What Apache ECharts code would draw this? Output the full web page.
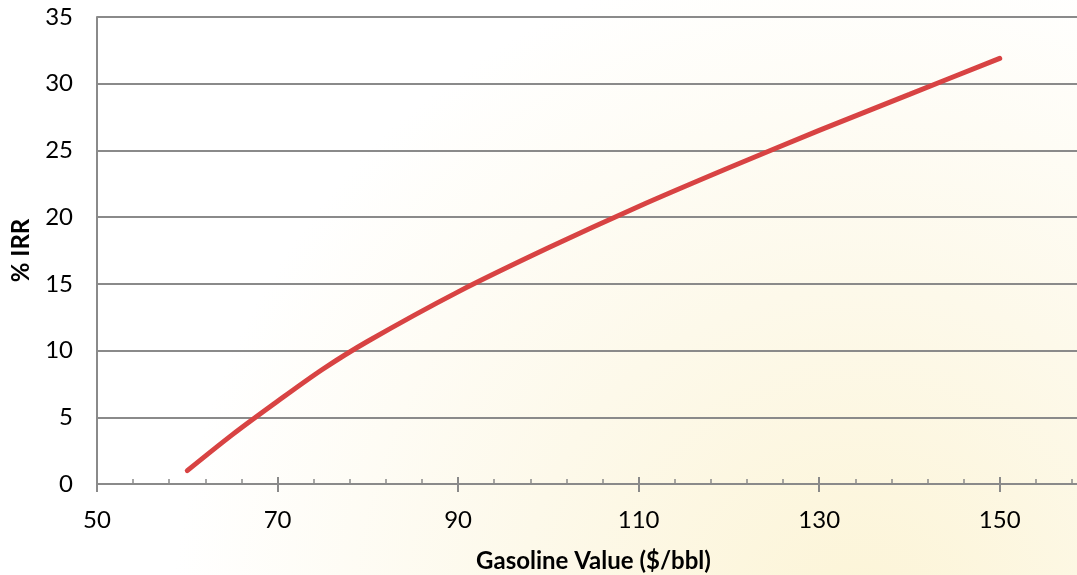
<!DOCTYPE html>
<html>
<head>
<meta charset="utf-8">
<style>
  html, body { margin: 0; padding: 0; background: #fff; }
  #chart { width: 1077px; height: 575px; }
</style>
<script src="https://cdn.jsdelivr.net/npm/echarts@6/dist/echarts.min.js"></script>
</head>
<body>
<div id="chart"></div>
<script>
// Gasoline value ($/bbl) versus internal rate of return (%)
const gasolineValue = [60, 65, 70, 75, 80, 90, 100, 110, 120, 130, 140, 150];
const irrPercent    = [1.0, 3.7, 6.2, 8.6, 10.7, 14.4, 17.7, 20.8, 23.7, 26.5, 29.2, 31.9];

const xAxisMin = 50, xAxisMax = 160, xStep = 20;
const yAxisMin = 0, yAxisMax = 35, yStep = 5;

const fontFamily = 'Lato, "Open Sans", sans-serif';
const axisGray = '#8a8a8a';

const chart = echarts.init(document.getElementById('chart'), null, { renderer: 'canvas' });

const points = gasolineValue.map((x, i) => [x, irrPercent[i]]);

chart.setOption({
  // white page with a pale cream glow rising from the lower right
  backgroundColor: {
    type: 'radial', x: 0.8, y: 1.1, r: 1.2,
    colorStops: [
      { offset: 0, color: '#fcf4d6' },
      { offset: 0.5, color: '#fdf9ea' },
      { offset: 1, color: '#ffffff' }
    ]
  },
  animation: false,
  // plot area runs a little past the right edge of the page
  grid: { left: 97, top: 17, width: 993, bottom: 91, containLabel: false, outerBoundsMode: 'none' },
  xAxis: [
    {
      type: 'value',
      min: xAxisMin, max: xAxisMax, interval: xStep,
      name: 'Gasoline Value ($/bbl)',
      nameLocation: 'middle',
      nameGap: 65,
      nameTextStyle: { fontFamily, fontWeight: 'bold', fontSize: 24, color: '#000' },
      axisLine: { show: true, lineStyle: { color: axisGray, width: 2 } },
      axisTick: { show: true, inside: true, length: 7, lineStyle: { color: axisGray, width: 2 } },
      minorTick: { show: true, splitNumber: 5, length: 5, lineStyle: { color: axisGray, width: 1.5 } },
      axisLabel: { fontFamily, fontSize: 24, color: '#000', margin: 24, showMaxLabel: false },
      splitLine: { show: false }
    },
    {
      type: 'value',
      min: xAxisMin, max: xAxisMax, interval: xStep,
      position: 'bottom',
      axisLine: { show: false },
      axisTick: { show: true, inside: false, length: 8, lineStyle: { color: axisGray, width: 2 } },
      axisLabel: { show: false },
      splitLine: { show: false }
    }
  ],
  yAxis: {
    type: 'value',
    min: yAxisMin, max: yAxisMax, interval: yStep,
    name: '% IRR',
    nameLocation: 'middle',
    nameGap: 64,
    nameTextStyle: { fontFamily, fontWeight: 'bold', fontSize: 24, color: '#000' },
    axisLine: { show: true, lineStyle: { color: axisGray, width: 2 } },
    axisTick: { show: false },
    axisLabel: { fontFamily, fontSize: 24, color: '#000', margin: 24 },
    splitLine: { show: true, lineStyle: { color: axisGray, width: 2 } }
  },
  series: [{
    type: 'line',
    data: points,
    smooth: 0.3,
    showSymbol: false,
    lineStyle: { color: '#d84343', width: 5, cap: 'round' },
    z: 5
  }]
});
</script>
</body>
</html>
